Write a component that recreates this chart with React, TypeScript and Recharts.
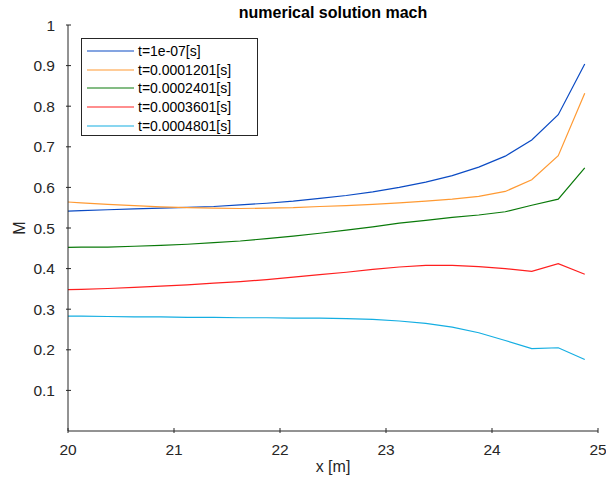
import React from "react";
import { LineChart, Line, XAxis, YAxis, Legend, Label } from "recharts";

const xs = [
  19.875, 20.125, 20.375, 20.625, 20.875, 21.125, 21.375, 21.625, 21.875, 22.125, 22.375,
  22.625, 22.875, 23.125, 23.375, 23.625, 23.875, 24.125, 24.375, 24.625, 24.875,
];

const mach0 = [
  0.54, 0.543, 0.545, 0.547, 0.549, 0.551, 0.553, 0.557, 0.561, 0.566, 0.573,
  0.58, 0.589, 0.6, 0.613, 0.629, 0.65, 0.677, 0.717, 0.779, 0.904,
];
const mach1 = [
  0.566, 0.562, 0.558, 0.555, 0.552, 0.55, 0.549, 0.548, 0.549, 0.55, 0.553,
  0.555, 0.558, 0.562, 0.566, 0.571, 0.578, 0.59, 0.619, 0.678, 0.832,
];
const mach2 = [
  0.452, 0.453, 0.453, 0.455, 0.457, 0.46, 0.464, 0.468, 0.474, 0.48, 0.487,
  0.495, 0.503, 0.512, 0.519, 0.526, 0.532, 0.54, 0.556, 0.571, 0.648,
];
const mach3 = [
  0.347, 0.349, 0.351, 0.354, 0.357, 0.36, 0.364, 0.368, 0.373, 0.379, 0.385,
  0.391, 0.398, 0.404, 0.408, 0.408, 0.405, 0.4, 0.393, 0.412, 0.386,
];
const mach4 = [
  0.283, 0.283, 0.282, 0.281, 0.281, 0.28, 0.28, 0.279, 0.279, 0.278, 0.278,
  0.277, 0.275, 0.271, 0.265, 0.256, 0.242, 0.223, 0.203, 0.205, 0.176,
];

const seriesNames = [
  "t=1e-07[s]",
  "t=0.0001201[s]",
  "t=0.0002401[s]",
  "t=0.0003601[s]",
  "t=0.0004801[s]",
];
const seriesColors = ["#0b4bc4", "#ff9a33", "#0a7a0a", "#ff1f1f", "#14aee2"];

const xTicks = [20, 21, 22, 23, 24, 25];
const yTicks = [0.1, 0.2, 0.3, 0.4, 0.5, 0.6, 0.7, 0.8, 0.9, 1];

const allSeries = [mach0, mach1, mach2, mach3, mach4];
const data = xs.map((x, i) => {
  const row: Record<string, number> = { x };
  allSeries.forEach((s, k) => {
    row[`s${k}`] = s[i];
  });
  return row;
});

const AXIS = "#262626";
const FONT = "'Liberation Sans', Arial, Helvetica, sans-serif";

function fmtY(v: number) {
  return v === 1 ? "1" : v.toFixed(1);
}

const BottomTick = (props: any) => {
  const { x, y, payload } = props;
  return (
    <g>
      <line x1={x} y1={y} x2={x} y2={y - 5} stroke={AXIS} />
      <text x={x} y={y + 21.5} textAnchor="middle" fill={AXIS} fontSize={15.5} fontFamily={FONT}>
        {payload.value}
      </text>
    </g>
  );
};

const TopTick = (props: any) => {
  const { x, y } = props;
  return <line x1={x} y1={y} x2={x} y2={y + 5} stroke={AXIS} />;
};

const LeftTick = (props: any) => {
  const { x, y, payload } = props;
  return (
    <g>
      <line x1={x} y1={y} x2={x + 5} y2={y} stroke={AXIS} />
      <text x={x - 11} y={y + 5.5} textAnchor="end" fill={AXIS} fontSize={15.5} fontFamily={FONT}>
        {fmtY(payload.value)}
      </text>
    </g>
  );
};

const RightTick = (props: any) => {
  const { x, y } = props;
  return <line x1={x} y1={y} x2={x - 5} y2={y} stroke={AXIS} />;
};

const LegendBox = (props: any) => {
  const items = [...(props.payload || [])].sort(
    (a: any, b: any) => seriesNames.indexOf(a.value) - seriesNames.indexOf(b.value)
  );
  return (
    <div
      style={{
        border: `1px solid ${AXIS}`,
        background: "#fff",
        width: 175,
        height: 93,
        boxSizing: "content-box",
        fontFamily: FONT,
        fontSize: 14,
        color: "#000",
        paddingTop: 3,
      }}
    >
      {items.map((it: any) => (
        <div key={it.value} style={{ height: 18.6, display: "flex", alignItems: "center" }}>
          <svg width={56} height={4} style={{ display: "block" }}>
            <line x1={5} y1={2} x2={52} y2={2} stroke={it.color} strokeWidth={1.2} />
          </svg>
          <span>{it.value}</span>
        </div>
      ))}
    </div>
  );
};

export default function App() {
  return (
    <div style={{ position: "absolute", left: 0, top: 0, background: "#fff" }}>
      <LineChart
        width={606}
        height={481}
        data={data}
        margin={{ top: 25, right: 8, bottom: 0, left: 8 }}
      >
        <XAxis
          dataKey="x"
          type="number"
          domain={[20, 25]}
          ticks={xTicks}
          allowDataOverflow
          height={50}
          tickSize={0}
          tickLine={false}
          axisLine={{ stroke: AXIS }}
          tick={<BottomTick />}
          interval={0}
        >
          <Label
            content={() => (
              <text x={333} y={472} textAnchor="middle" fill={AXIS} fontSize={16} fontFamily={FONT}>
                x [m]
              </text>
            )}
          />
        </XAxis>
        <XAxis
          xAxisId="top"
          dataKey="x"
          type="number"
          orientation="top"
          domain={[20, 25]}
          ticks={xTicks}
          allowDataOverflow
          height={0}
          tickSize={0}
          tickLine={false}
          axisLine={{ stroke: AXIS }}
          tick={<TopTick />}
          interval={0}
        />
        <YAxis
          type="number"
          domain={[0, 1]}
          ticks={yTicks}
          allowDataOverflow
          width={60}
          tickSize={0}
          tickLine={false}
          axisLine={{ stroke: AXIS }}
          tick={<LeftTick />}
          interval={0}
        >
          <Label
            content={() => (
              <g>
                <text
                  x={25}
                  y={228}
                  textAnchor="middle"
                  fill={AXIS}
                  fontSize={16}
                  fontFamily={FONT}
                  transform="rotate(-90 25 228)"
                >
                  M
                </text>
                <text x={333} y={18} textAnchor="middle" fill="#000" fontSize={16} fontWeight="bold" fontFamily={FONT}>
                  numerical solution mach
                </text>
              </g>
            )}
          />
        </YAxis>
        <YAxis
          yAxisId="right"
          orientation="right"
          type="number"
          domain={[0, 1]}
          ticks={yTicks}
          width={0}
          tickSize={0}
          tickLine={false}
          axisLine={{ stroke: AXIS }}
          tick={<RightTick />}
          interval={0}
        />
        <Legend
          layout="vertical"
          align="center"
          verticalAlign="middle"
          content={<LegendBox />}
          wrapperStyle={{ left: 81, top: 38, width: 177, height: 98 }}
        />
        {seriesNames.map((name, k) => (
          <Line
            key={name}
            name={name}
            dataKey={`s${k}`}
            type="linear"
            stroke={seriesColors[k]}
            strokeWidth={1.2}
            dot={false}
            activeDot={false}
            isAnimationActive={false}
          />
        ))}
      </LineChart>
    </div>
  );
}
